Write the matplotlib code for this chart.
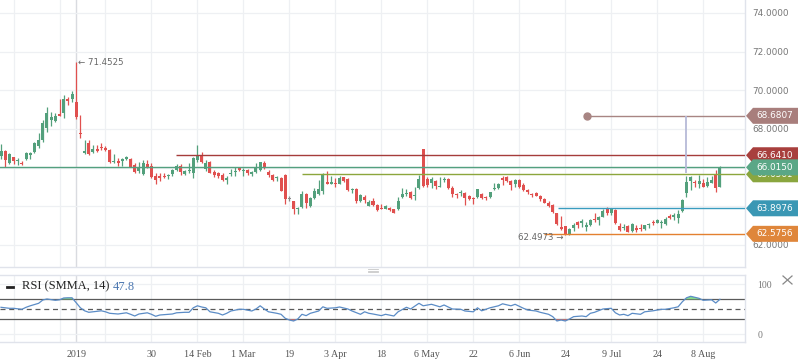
import matplotlib
matplotlib.use("Agg")
import matplotlib.pyplot as plt
import numpy as np
from matplotlib.patches import Polygon
from matplotlib.lines import Line2D
import matplotlib.transforms as mtransforms

# ---------------- data ----------------
opens = [66.58, 66.87, 66.26, 66.54, 66.33, 66.26, 66.45, 66.65, 66.82, 67.14,
         67.43, 68.07, 68.47, 68.41, 68.78, 68.81, 69.53, 69.55, 69.41, 67.81,
         66.77, 67.29, 66.82, 66.98, 67.08, 67.03, 66.93, 66.29, 66.36, 66.36,
         66.43, 66.45, 66.14, 65.84, 65.67, 66.19, 66.10, 65.57, 65.55, 65.58,
         65.57, 65.65, 65.88, 66.10, 65.67, 65.84, 65.71, 66.40, 66.65, 65.91,
         66.31, 65.79, 65.72, 65.62, 65.38, 65.67, 65.77, 65.98, 65.84, 65.88,
         65.67, 65.77, 65.88, 66.26, 65.79, 65.62, 65.45, 65.48, 65.62, 64.37,
         64.27, 63.85, 63.95, 64.64, 64.02, 64.41, 64.66, 64.81, 65.26, 65.17,
         65.21, 65.17, 65.50, 65.40, 64.84, 64.90, 64.27, 64.50, 64.03, 64.29,
         64.07, 63.93, 63.88, 63.93, 63.84, 63.86, 64.47, 64.64, 64.76, 64.53,
         64.96, 66.96, 65.40, 65.22, 65.33, 65.02, 65.36, 65.40, 64.96, 64.64,
         64.70, 64.70, 64.55, 64.45, 64.50, 64.64, 64.50, 64.50, 64.88, 64.93,
         65.45, 65.53, 65.31, 65.15, 65.36, 65.12, 64.84, 64.64, 64.70, 64.53,
         64.36, 64.19, 64.07, 63.64, 62.95, 62.98, 62.57, 62.88, 63.20, 63.12,
         62.95, 63.04, 63.33, 63.29, 63.46, 63.86, 63.67, 63.81, 62.98, 62.86,
         62.98, 62.73, 62.86, 62.86, 62.84, 63.02, 63.20, 63.15, 63.15, 63.09,
         63.50, 63.46, 63.38, 63.77, 64.69, 65.33, 65.26, 65.15, 65.19, 65.05,
         65.22, 65.67, 65.02]
highs = [67.22, 66.90, 66.76, 66.56, 66.48, 66.36, 66.82, 66.82, 67.34, 67.81,
         68.47, 69.12, 68.89, 68.81, 69.54, 69.76, 69.67, 69.98, 71.4525, 68.72,
         67.43, 67.43, 67.15, 67.17, 67.29, 67.14, 66.97, 66.69, 66.48, 66.48,
         66.62, 66.48, 66.22, 66.31, 66.40, 66.40, 66.22, 65.71, 65.71, 65.71,
         65.67, 65.91, 66.17, 66.17, 65.88, 66.26, 66.57, 67.17, 66.82, 66.40,
         66.36, 65.88, 65.77, 65.71, 65.57, 65.91, 66.05, 66.02, 65.96, 65.91,
         65.81, 66.22, 66.31, 66.33, 65.88, 65.65, 65.58, 65.50, 65.65, 64.53,
         64.29, 63.98, 64.79, 64.71, 64.47, 64.96, 65.36, 65.74, 65.83, 65.57,
         65.48, 65.57, 65.53, 65.45, 64.96, 64.93, 64.64, 64.59, 64.33, 64.41,
         64.12, 64.12, 64.07, 63.98, 63.88, 64.50, 64.93, 64.91, 64.79, 64.98,
         65.62, 66.98, 65.50, 65.50, 65.36, 65.50, 65.53, 65.45, 65.03, 64.67,
         64.84, 64.74, 64.59, 64.50, 64.90, 64.69, 64.55, 64.76, 65.19, 65.22,
         65.57, 65.58, 65.36, 65.40, 65.40, 65.19, 64.88, 64.67, 64.74, 64.59,
         64.41, 64.29, 64.12, 63.67, 63.50, 63.00, 62.86, 63.15, 63.24, 63.33,
         63.20, 63.33, 63.64, 63.50, 63.84, 63.95, 63.93, 63.85, 63.15, 63.10,
         63.01, 63.12, 63.01, 63.07, 63.05, 63.12, 63.29, 63.33, 63.29, 63.43,
         63.60, 63.64, 63.81, 64.38, 65.58, 65.58, 65.36, 65.62, 65.40, 65.50,
         65.57, 65.88, 66.09]
lows = [66.45, 66.05, 66.19, 66.19, 66.14, 66.14, 66.40, 66.43, 66.77, 67.00,
        67.34, 67.86, 68.15, 68.38, 68.65, 68.55, 69.24, 69.41, 68.50, 67.52,
        66.71, 66.65, 66.74, 66.82, 66.91, 66.88, 66.22, 66.22, 66.08, 66.09,
        66.40, 66.02, 65.71, 65.71, 65.64, 65.96, 65.45, 65.17, 65.32, 65.45,
        65.43, 65.58, 65.84, 65.62, 65.62, 65.71, 65.48, 66.31, 66.22, 65.84,
        65.71, 65.50, 65.45, 65.32, 65.15, 65.58, 65.57, 65.84, 65.57, 65.62,
        65.58, 65.74, 65.83, 65.93, 65.53, 65.31, 65.31, 64.78, 64.12, 64.25,
        63.60, 63.60, 63.90, 63.90, 63.95, 64.36, 64.59, 64.62, 65.14, 65.14,
        65.02, 65.14, 65.27, 64.79, 64.67, 64.19, 64.24, 64.16, 64.02, 64.02,
        63.77, 63.84, 63.84, 63.77, 63.67, 63.81, 64.43, 64.53, 64.36, 64.33,
        64.90, 65.00, 65.02, 64.96, 64.88, 64.98, 65.27, 64.90, 64.47, 64.41,
        64.53, 64.07, 64.33, 64.12, 64.41, 64.36, 64.33, 64.45, 64.84, 64.90,
        65.10, 65.27, 64.84, 64.98, 64.96, 64.79, 64.64, 64.50, 64.55, 64.29,
        64.16, 63.95, 63.67, 63.04, 62.75, 62.4973, 62.52, 62.74, 62.88, 62.95,
        62.74, 62.98, 63.20, 63.04, 63.43, 63.55, 63.55, 63.09, 62.74, 62.79,
        62.65, 62.67, 62.69, 62.72, 62.78, 62.89, 63.04, 63.12, 62.86, 63.04,
        63.33, 63.29, 63.15, 63.72, 64.47, 64.84, 64.98, 64.93, 65.02, 65.02,
        65.19, 64.76, 65.02]
closes = [66.87, 66.40, 66.69, 66.34, 66.40, 66.19, 66.74, 66.77, 67.29, 67.43,
          68.33, 68.81, 68.61, 68.67, 68.67, 69.55, 69.46, 69.79, 68.61, 67.72,
          66.87, 66.71, 66.95, 66.88, 67.02, 66.91, 66.31, 66.36, 66.22, 66.43,
          66.53, 66.05, 65.79, 66.00, 66.26, 66.02, 65.50, 65.36, 65.46, 65.52,
          65.62, 65.88, 66.10, 65.79, 65.84, 65.88, 66.51, 66.65, 66.31, 66.26,
          65.74, 65.62, 65.57, 65.36, 65.46, 65.72, 65.81, 65.88, 65.89, 65.71,
          65.76, 66.03, 66.28, 65.97, 65.62, 65.36, 65.50, 64.81, 64.36, 64.37,
          63.88, 63.90, 64.64, 64.16, 64.41, 64.79, 64.90, 65.67, 65.15, 65.26,
          65.14, 65.48, 65.33, 64.84, 64.91, 64.27, 64.59, 64.33, 64.24, 64.07,
          63.81, 63.88, 64.03, 63.81, 63.67, 64.27, 64.64, 64.71, 64.41, 64.59,
          65.40, 65.07, 65.10, 65.43, 65.07, 65.07, 65.41, 64.93, 64.64, 64.57,
          64.76, 64.41, 64.38, 64.38, 64.88, 64.41, 64.43, 64.72, 64.96, 65.17,
          65.36, 65.33, 65.10, 65.36, 65.02, 64.84, 64.76, 64.57, 64.55, 64.36,
          64.19, 64.02, 63.72, 63.09, 62.85, 62.57, 62.81, 63.04, 63.04, 63.25,
          63.04, 63.29, 63.29, 63.46, 63.77, 63.67, 63.84, 63.15, 62.78, 62.95,
          62.67, 63.07, 62.78, 62.80, 63.02, 63.09, 63.12, 63.29, 63.20, 63.34,
          63.38, 63.55, 63.60, 64.33, 65.24, 65.53, 65.19, 65.31, 65.02, 65.27,
          65.36, 64.93, 66.02]

rsi_idx = [0, 2, 3, 5, 6, 7, 9, 10, 11, 13, 14, 15, 16, 17, 18, 19, 20, 21, 22,
           24, 25, 26, 28, 30, 31, 32, 33, 35, 36, 37, 38, 40, 41, 42, 44, 45,
           46, 47, 48, 49, 50, 52, 53, 54, 55, 57, 58, 60, 61, 62, 63, 64, 66,
           67, 68, 69, 70, 71, 72, 73, 74, 76, 77, 78, 80, 81, 83, 84, 86, 87,
           88, 89, 91, 92, 94, 95, 97, 98, 100, 101, 103, 105, 106, 108, 110,
           111, 113, 114, 115, 117, 119, 120, 122, 123, 125, 126, 128, 129, 131,
           132, 133, 134, 135, 136, 137, 139, 140, 141, 142, 144, 146, 147, 148,
           149, 150, 151, 153, 154, 156, 158, 159, 161, 162, 163, 164, 165, 166,
           167, 168, 170, 171, 172]
rsi_val = [54, 52, 52, 50, 54, 57, 62, 68.6, 70.6, 68, 69, 72.6, 73, 73, 63, 53,
           47, 44, 45, 47, 45, 42, 40.6, 43, 40, 36.6, 40.6, 43, 40, 36, 38.6,
           40, 40.6, 43, 44, 44, 53, 57, 54.6, 53, 45, 42, 38.6, 42, 46.6, 50,
           50, 46.6, 50.6, 57, 50.6, 45, 42, 40, 32, 28.6, 26.6, 30.6, 40, 37.3,
           42, 46.6, 55, 52, 53, 54.6, 50.6, 46.6, 40, 45, 42, 40.6, 37.3, 40,
           36.6, 45, 54, 50.6, 62, 57, 60, 55, 58.6, 50.6, 50, 46.6, 45, 53, 47,
           53, 57, 61, 57, 60, 52, 48.6, 46.6, 44, 40, 35.3, 26.6, 28.6, 26.6,
           30.6, 35.3, 36.6, 35.3, 42, 44, 50.6, 52, 43, 38.6, 40, 37.3, 42, 40,
           45, 47, 50, 50, 53, 55, 65, 73, 76, 74, 72, 68, 69, 62.6, 70]

tick_idx = [18, 36, 47, 58, 69, 80, 91, 102, 113, 124, 135, 146, 157, 168]
tick_labels = ["2019", "30", "14 Feb", "1 Mar", "19", "3 Apr", "18", "6 May",
               "22", "6 Jun", "24", "9 Jul", "24", "8 Aug"]
grid_idx = [3, 14, 25, 36, 47, 58, 69, 80, 91, 102, 113, 124, 135, 146, 157, 168]
year_idx = 18

price_grid = [62, 64, 66, 68, 70, 72, 74]
price_labeled = [62, 68, 70, 72, 74]   # 64 and 66 sit behind the level tags
rsi_ticks = [0, 100]

levels = [68.6807, 66.6410, 65.6561, 66.0150, 63.8976, 62.5756]
level_labels = ["68.6807", "66.6410", "65.6561", "66.0150", "63.8976", "62.5756"]
level_start = [140.2, 41.8, 72.0, -1.0, 133.3, 130.0]
level_line_colors = ["#a88583", "#a53c3b", "#8ca63c", "#53a07f", "#3a9cbf", "#e38030"]
level_tag_colors = ["#a87e7c", "#a83f3d", "#8aa63f", "#5aa786", "#3a97b4", "#df863b"]

high_mark = 71.4525
low_mark = 62.4973
vert_idx = 164
vert_bottom = 65.72

# ---------------- layout ----------------
W, H = 798, 363
fig = plt.figure(figsize=(W / 100, H / 100), dpi=100)
fig.patch.set_facecolor("white")


def fx(px):
    return px / W


def fy(py):
    return 1 - py / H


ax = fig.add_axes([0, fy(267), fx(745), 267 / H])
ax2 = fig.add_axes([0, fy(342), fx(745), 67 / H])

XL = (-0.24, 178.0)
YL = (60.86, 74.6725)
for a in (ax, ax2):
    a.set_xlim(*XL)
ax.set_ylim(*YL)
ax2.set_ylim(-15.4, 118.6)
px_per_unit = 267 / (YL[1] - YL[0])

GRID = "#eef0f3"
for a in (ax, ax2):
    for gi in grid_idx:
        a.axvline(gi, color=GRID, lw=0.9, zorder=0)
    a.axvline(year_idx, color="#d9dbe0", lw=1.0, zorder=0)
for p in price_grid:
    ax.axhline(p, color=GRID, lw=0.9, zorder=0)
for p in rsi_ticks:
    ax2.axhline(p, color=GRID, lw=0.9, zorder=0)

# ---------------- candles ----------------
GREEN, RED, GRAY = "#53a07c", "#e0504f", "#8a8a8a"
x = np.arange(len(closes))
o = np.array(opens)
c = np.array(closes)
hi = np.array(highs)
lo = np.array(lows)
cols = np.where(c > o, GREEN, np.where(c < o, RED, GRAY))
ax.vlines(x, lo, hi, colors=cols, lw=0.9, zorder=3)
bottoms = np.minimum(o, c)
heights = np.maximum(np.abs(c - o), 0.05)
ax.bar(x, heights, 0.72, bottom=bottoms, color=cols, linewidth=0, zorder=4)

# ---------------- level lines and tags ----------------
for lv, st, col in zip(levels, level_start, level_line_colors):
    ax.hlines(lv, st, XL[1], colors=col, lw=1.0, zorder=5)
ax.plot([level_start[0]], [levels[0]], "o", ms=5, color=level_line_colors[0], zorder=6)
ax.vlines(vert_idx, vert_bottom, levels[0], colors="#b6bad8", lw=1.3, zorder=5)

blend = mtransforms.blended_transform_factory(fig.transFigure, ax.transData)
half = 8.0 / px_per_unit
for k in range(len(levels)):
    lv = levels[k]
    poly = Polygon([(fx(746), lv), (fx(753), lv + half), (1.0, lv + half),
                    (1.0, lv - half), (fx(753), lv - half)], closed=True,
                   facecolor=level_tag_colors[k], edgecolor="none",
                   transform=blend, clip_on=False, zorder=20 + k)
    ax.add_patch(poly)
    ax.text(fx(756), lv, level_labels[k], transform=blend, color="white",
            fontsize=6.4, family="DejaVu Sans", va="center", ha="left",
            clip_on=False, zorder=20 + k)

# ---------------- annotations ----------------
ax.annotate("\u2190 " + f"{high_mark:.4f}", xy=(year_idx, high_mark),
            xytext=(2, 0), textcoords="offset pixels", ha="left", va="center",
            fontsize=6.2, color="#666666", family="DejaVu Sans", zorder=7)
ax.annotate(f"{low_mark:.4f} \u2192", xy=(135, low_mark),
            xytext=(-2, -2), textcoords="offset pixels", ha="right", va="center",
            fontsize=6.2, color="#666666", family="DejaVu Sans", zorder=7)

# ---------------- axes styling ----------------
SP = "#e0e3eb"
for a in (ax, ax2):
    for s in a.spines.values():
        s.set_color(SP)
        s.set_linewidth(1.0)
    a.spines["left"].set_visible(False)
ax.spines["top"].set_visible(False)

ax.set_xticks([])
ax.yaxis.tick_right()
ax.set_yticks(price_labeled)
ax.set_yticklabels([f"{p:.4f}" for p in price_labeled])
ax.tick_params(axis="y", length=0, pad=5, labelsize=6.4, labelcolor="#777777")
for t in ax.get_yticklabels():
    t.set_family("DejaVu Sans")

ax2.yaxis.tick_right()
ax2.set_yticks(rsi_ticks)
ax2.set_yticklabels([str(v) for v in rsi_ticks])
ax2.tick_params(axis="y", length=0, pad=9, labelsize=7, labelcolor="#777777")
ax2.set_xticks(tick_idx)
ax2.set_xticklabels(tick_labels)
ax2.tick_params(axis="x", length=0, pad=6, labelsize=7.2, labelcolor="#555555")
for t in ax2.get_xticklabels() + ax2.get_yticklabels():
    t.set_family("Liberation Serif")

# ---------------- RSI ----------------
ri = np.array(rsi_idx, dtype=float)
rv = np.array(rsi_val, dtype=float)
ax2.fill_between(ri, rv, 70, where=rv > 70, interpolate=True, color="#86d98a", lw=0, zorder=3)
ax2.fill_between(ri, rv, 30, where=rv < 30, interpolate=True, color="#e07a7a", lw=0, zorder=3)
ax2.axhline(70, color="#5a5a5a", lw=0.9, zorder=2)
ax2.axhline(30, color="#5a5a5a", lw=0.9, zorder=2)
ax2.axhline(50, color="#5a5a5a", lw=0.9, ls=(0, (4, 3)), zorder=2)
ax2.plot(ri, rv, color="#5b8cc6", lw=0.9, zorder=4)

fig.add_artist(Line2D([fx(7), fx(13)], [fy(286.5), fy(286.5)], lw=2.0, color="#222222"))
fig.text(fx(22), fy(286.5), "RSI (SMMA, 14)", family="Liberation Serif", fontsize=9,
         color="#222222", va="center", ha="left")
fig.text(fx(113), fy(286.5), "47.8", family="Liberation Serif", fontsize=9,
         color="#4a76b0", va="center", ha="left")

# pane separator handle and close cross
for yy in (269.0, 270.5, 272.0):
    fig.add_artist(Line2D([fx(368), fx(378)], [fy(yy), fy(yy)], lw=0.6, color="#c8c8c8"))
fig.add_artist(Line2D([fx(783), fx(792)], [fy(276), fy(284)], lw=0.9, color="#888888"))
fig.add_artist(Line2D([fx(783), fx(792)], [fy(284), fy(276)], lw=0.9, color="#888888"))

fig.savefig("out.png", dpi=100, facecolor="white")
